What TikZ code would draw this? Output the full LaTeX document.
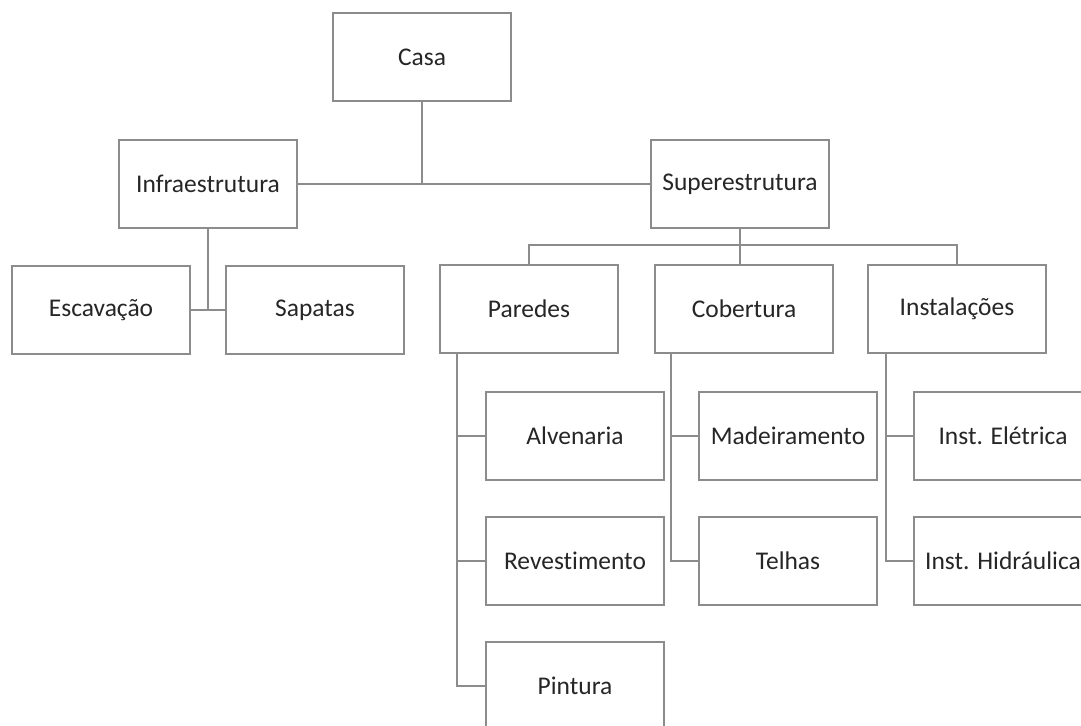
\documentclass[tikz,border=0pt]{standalone}
\usepackage{fontspec}
\setmainfont[Ligatures=NoCommon]{Carlito}
\definecolor{linegray}{gray}{0.55}
\definecolor{textgray}{gray}{0.15}
\tikzset{
  wbsbox/.style={draw=linegray,line width=1.1pt,fill=white,text=textgray,
    minimum width=3.56cm,minimum height=1.76cm,inner sep=0pt,
    font=\fontsize{14.5}{17}\selectfont},
  wbsline/.style={draw=linegray,line width=1.1pt}
}
\begin{document}
\begin{tikzpicture}[x=0.02cm,y=-0.02cm]
  \useasboundingbox (0,0) rectangle (1081,726);
  \clip (0,0) rectangle (1081,726);
  % level 0 and 1
  \node[wbsbox] (casa) at (422,57) {Casa};
  \node[wbsbox] (infra) at (208,184) {Infraestrutura};
  \node[wbsbox] (super) at (740,184) {Superestrutura};
  % infraestrutura
  \node[wbsbox] (escav) at (101,310) {Escavação};
  \node[wbsbox] (sapatas) at (315,310) {Sapatas};
  % superestrutura
  \node[wbsbox] (paredes) at (529,309) {Paredes};
  \node[wbsbox] (cobertura) at (744,309) {Cobertura};
  \node[wbsbox] (instal) at (957,309) {Instalações};
  \node[wbsbox] (alven) at (575,436) {Alvenaria};
  \node[wbsbox] (revest) at (575,561) {Revestimento};
  \node[wbsbox] (pintura) at (575,686) {Pintura};
  \node[wbsbox] (madeir) at (788,436) {Madeiramento};
  \node[wbsbox] (telhas) at (788,561) {Telhas};
  \node[wbsbox] (eletrica) at (1003,436) {Inst. Elétrica};
  \node[wbsbox] (hidraulica) at (1003,561) {Inst. Hidráulica};
  \coordinate (bus) at (0,245);
  \coordinate (pw) at ([xshift=0.36cm]paredes.south west);
  \coordinate (cw) at ([xshift=0.34cm]cobertura.south west);
  \coordinate (iw) at ([xshift=0.38cm]instal.south west);
  % connectors
  \draw[wbsline] (casa.south) -- (casa.south |- infra.east);
  \draw[wbsline] (infra.east) -- (super.west);
  \draw[wbsline] (infra.south) -- (infra.south |- escav.east);
  \draw[wbsline] (escav.east) -- (sapatas.west);
  \draw[wbsline] (super.south) -- (super.south |- cobertura.north);
  \draw[wbsline] (paredes.north) |- (bus -| instal.north) -- (instal.north);
  \draw[wbsline] (pw) |- (pintura.west);
  \draw[wbsline] (alven.west) -- (alven.west -| pw);
  \draw[wbsline] (revest.west) -- (revest.west -| pw);
  \draw[wbsline] (cw) |- (telhas.west);
  \draw[wbsline] (madeir.west) -- (madeir.west -| cw);
  \draw[wbsline] (iw) |- (hidraulica.west);
  \draw[wbsline] (eletrica.west) -- (eletrica.west -| iw);
\end{tikzpicture}
\end{document}
